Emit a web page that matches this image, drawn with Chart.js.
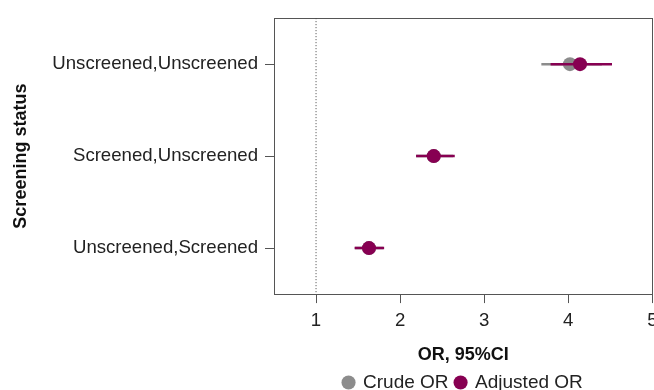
<!DOCTYPE html>
<html>
<head>
<meta charset="utf-8">
<script src="https://cdn.jsdelivr.net/npm/chart.js@4.4.1/dist/chart.umd.min.js"></script>
<style>
  html, body { margin: 0; padding: 0; background: #fff; overflow: hidden; }
</style>
</head>
<body>
<canvas id="chart" width="664" height="390"></canvas>
<script>
// rows from top to bottom
const categories = ["Unscreened,Unscreened", "Screened,Unscreened", "Unscreened,Screened"];
const crudeOR = [4.02, 2.40, 1.63];
const crudeLow = [3.68, 2.19, 1.46];
const crudeHigh = [4.40, 2.63, 1.80];
const adjustedOR = [4.14, 2.40, 1.63];
const adjustedLow = [3.79, 2.19, 1.46];
const adjustedHigh = [4.52, 2.65, 1.81];
const xTicks = [1, 2, 3, 4, 5];
const refValue = 1;

const grey = "#8c8c8c";
const purple = "#870052";
const axisColor = "#555";
const font = "'Liberation Sans', Arial, sans-serif";

function pointData(vals) {
  return vals.map((v, i) => ({ x: v, y: i + 1 }));
}

// each CI is a two-point segment, separated by a gap
function ciData(lo, hi) {
  const out = [];
  lo.forEach((v, i) => {
    out.push({ x: v, y: i + 1 }, { x: hi[i], y: i + 1 }, { x: null, y: null });
  });
  return out;
}

new Chart(document.getElementById("chart"), {
  type: "scatter",
  data: {
    datasets: [
      { label: "Crude OR", data: pointData(crudeOR), backgroundColor: grey, borderWidth: 0, pointRadius: 7, pointHoverRadius: 7, order: 3 },
      { label: "Adjusted OR", data: pointData(adjustedOR), backgroundColor: purple, borderWidth: 0, pointRadius: 7, pointHoverRadius: 7, order: 1 },
      { label: "crude ci", type: "line", data: ciData(crudeLow, crudeHigh), borderColor: grey, borderWidth: 2.5, pointRadius: 0, spanGaps: false, order: 4 },
      { label: "adjusted ci", type: "line", data: ciData(adjustedLow, adjustedHigh), borderColor: purple, borderWidth: 2.5, pointRadius: 0, spanGaps: false, order: 2 },
      { label: "ref", type: "line", data: [{ x: refValue, y: 0.5 }, { x: refValue, y: 3.5 }], borderColor: "#444", borderWidth: 1, borderDash: [1, 2], pointRadius: 0, order: 5 }
    ]
  },
  options: {
    responsive: false,
    devicePixelRatio: 1,
    animation: false,
    layout: { padding: { top: 13.5, left: 0, right: 0, bottom: -12 } },
    plugins: {
      tooltip: { enabled: false },
      legend: {
        position: "bottom",
        fullSize: false,
        labels: {
          filter: item => item.datasetIndex < 2,
          sort: (a, b) => a.datasetIndex - b.datasetIndex,
          usePointStyle: true,
          pointStyle: "circle",
          boxWidth: 10,
          boxHeight: 10,
          padding: 7,
          color: "#222",
          font: { family: font, size: 19 }
        }
      }
    },
    scales: {
      x: {
        type: "linear",
        position: "bottom",
        min: 0.5,
        max: 5,
        afterBuildTicks: s => { s.ticks = xTicks.map(v => ({ value: v })); },
        grid: { drawOnChartArea: false, drawTicks: true, tickLength: 9, color: axisColor },
        border: { display: true, color: axisColor, width: 1 },
        ticks: { color: "#222", padding: 6.5, font: { family: font, size: 18.6 } },
        title: { display: true, text: "OR, 95%CI", color: "#111", padding: { top: 6, bottom: 0 }, font: { family: font, size: 18, weight: "bold" } }
      },
      y: {
        type: "linear",
        min: 0.5,
        max: 3.5,
        reverse: true,
        afterBuildTicks: s => { s.ticks = categories.map((c, i) => ({ value: i + 1 })); },
        afterFit: s => { s.width = 274; },
        grid: { drawOnChartArea: false, drawTicks: true, tickLength: 9, color: axisColor },
        border: { display: true, color: axisColor, width: 1 },
        ticks: { color: "#222", padding: 7, font: { family: font, size: 18.6 }, callback: v => categories[v - 1] },
        title: { display: true, text: "Screening status", color: "#111", padding: { top: 10, bottom: 8 }, font: { family: font, size: 18, weight: "bold" } }
      },
      xTop: {
        type: "linear",
        position: "top",
        min: 0.5,
        max: 5,
        ticks: { display: false },
        afterFit: s => { s.height = 0; },
        grid: { display: false, drawTicks: false },
        border: { display: true, color: axisColor, width: 1 }
      },
      yRight: {
        type: "linear",
        position: "right",
        min: 0.5,
        max: 3.5,
        ticks: { display: false },
        afterFit: s => { s.width = 0; },
        grid: { display: false, drawTicks: false },
        border: { display: true, color: axisColor, width: 1 }
      }
    }
  }
});
</script>
</body>
</html>
